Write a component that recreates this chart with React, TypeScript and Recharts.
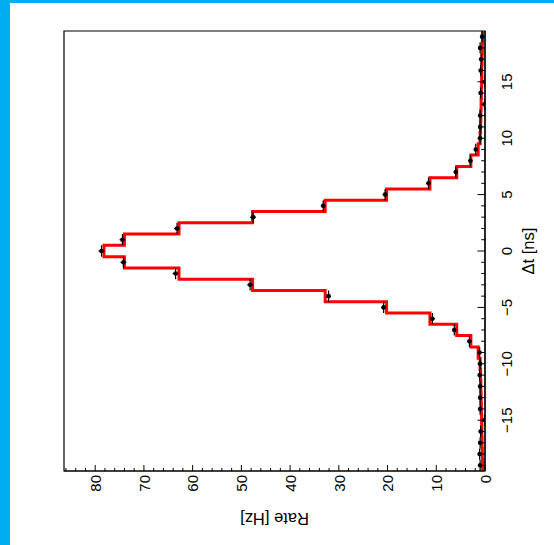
import React from 'react';
import {
  ComposedChart,
  Line,
  Scatter,
  XAxis,
  YAxis,
  ErrorBar,
  ReferenceArea,
  Label,
} from 'recharts';

// Bin centres of the coincidence-time histogram [ns]
const dtCenters = [
  -19, -18, -17, -16, -15, -14, -13, -12, -11, -10, -9, -8, -7, -6, -5, -4, -3, -2, -1, 0,
  1, 2, 3, 4, 5, 6, 7, 8, 9, 10, 11, 12, 13, 14, 15, 16, 17, 18, 19,
];

// Measured rate per bin [Hz]
const measuredRate = [
  1.0, 1.1, 1.0, 0.9, 0.1, 1.0, 1.0, 1.0, 1.1, 1.0, 1.1, 3.2, 6.3, 10.8, 20.8, 32.1, 48.2, 63.5, 74.2, 78.7,
  74.4, 63.2, 47.6, 33.2, 20.5, 11.6, 6.0, 3.0, 1.9, 1.0, 1.0, 1.0, 0.1, 0.9, 0.1, 0.9, 0.8, 1.0, 0.6,
];

// Statistical uncertainty of the measured rate [Hz]
const measuredRateErr = [
  0.3, 0.3, 0.3, 0.3, 0.0, 0.3, 0.3, 0.3, 0.3, 0.3, 0.3, 0.4, 0.4, 0.5, 0.5, 0.5, 0.6, 0.6, 0.6, 0.6,
  0.6, 0.6, 0.6, 0.5, 0.5, 0.5, 0.4, 0.4, 0.3, 0.3, 0.3, 0.3, 0.0, 0.3, 0.0, 0.3, 0.3, 0.3, 0.3,
];

// Expected rate per bin (red histogram) [Hz]
const expectedRate = [
  0.5, 0.55, 0.6, 0.65, 0.7, 0.75, 0.8, 0.85, 0.9, 1.0, 1.4, 2.9, 5.8, 11.3, 20.2, 32.8, 47.7, 62.8, 74.0, 78.2,
  74.0, 62.8, 47.7, 32.8, 20.2, 11.3, 5.8, 2.9, 1.4, 1.0, 0.9, 0.85, 0.8, 0.75, 0.7, 0.65, 0.6, 0.55, 0.5,
];

const binHalfWidth = 0.5;
const dtRange: [number, number] = [-19.5, 19.5];
const rateRange: [number, number] = [0, 86.4];

const dtTicks = dtCenters;
const dtMajorLabels = [-15, -10, -5, 0, 5, 10, 15];
const rateTicks = [
  0, 2, 4, 6, 8, 10, 12, 14, 16, 18, 20, 22, 24, 26, 28, 30, 32, 34, 36, 38, 40, 42, 44,
  46, 48, 50, 52, 54, 56, 58, 60, 62, 64, 66, 68, 70, 72, 74, 76, 78, 80, 82, 84, 86,
];
const rateMajorLabels = [0, 10, 20, 30, 40, 50, 60, 70, 80];

const FONT = '"Liberation Sans", Arial, Helvetica, sans-serif';

const pointData = dtCenters.map((dt, i) => ({
  dt,
  rate: measuredRate[i],
  rateErr: measuredRateErr[i],
  dtErr: binHalfWidth,
}));

// Step outline: each bin's value starts at its lower edge; the last edge closes the outline
const histData = [
  ...dtCenters.map((c, i) => ({ dt: c - binHalfWidth, rate: expectedRate[i] })),
  {
    dt: dtCenters[dtCenters.length - 1] + binHalfWidth,
    rate: expectedRate[expectedRate.length - 1],
  },
];

const fmt = (v: number) => (v < 0 ? '\u2212' + Math.abs(v) : String(v));

function DtTick(props: any) {
  const { x, y, payload } = props;
  const v = payload.value;
  const major = dtMajorLabels.includes(v);
  return (
    <g>
      <line x1={x} x2={x} y1={y} y2={y - (major ? 7.5 : 3.8)} stroke="#000" strokeWidth={1} />
      {major && (
        <text x={x} y={y + 27} textAnchor="middle" fontSize={15} fontFamily={FONT} fill="#000">
          {fmt(v)}
        </text>
      )}
    </g>
  );
}

function RateTick(props: any) {
  const { x, y, payload } = props;
  const v = payload.value;
  const major = rateMajorLabels.includes(v);
  return (
    <g>
      <line x1={x} x2={x + (major ? 6 : 3)} y1={y} y2={y} stroke="#000" strokeWidth={1} />
      {major && (
        <text x={x - 4} y={y + 5.8} textAnchor="end" fontSize={15} fontFamily={FONT} fill="#000">
          {fmt(v)}
        </text>
      )}
    </g>
  );
}

function Dot(props: any) {
  const { cx, cy } = props;
  return <circle cx={cx} cy={cy} r={2.3} fill="#000" />;
}

function DtTitle(props: any) {
  const vb = props.viewBox || { x: 74, y: 485, width: 440, height: 69 };
  return (
    <text
      x={vb.x + vb.width / 2}
      y={vb.y + 48.5}
      textAnchor="middle"
      fontSize={16.5}
      fontFamily={FONT}
      fill="#000"
    >
      {'\u0394t [ns]'}
    </text>
  );
}

function RateTitle(props: any) {
  const vb = props.viewBox || { x: 0, y: 64, width: 74, height: 421 };
  const cx = 32.5;
  const cy = vb.y + vb.height / 2;
  return (
    <text
      x={cx}
      y={cy}
      transform={`rotate(-90 ${cx} ${cy})`}
      textAnchor="middle"
      fontSize={16.5}
      fontFamily={FONT}
      fill="#000"
    >
      Rate [Hz]
    </text>
  );
}

export default function App() {
  const W = 545;
  const H = 554;
  return (
    <div
      style={{
        position: 'absolute',
        left: 0,
        top: 0,
        width: 554,
        height: 545,
        background: '#fff',
        overflow: 'hidden',
      }}
    >
      <div
        style={{
          position: 'absolute',
          left: 0,
          top: 0,
          width: W,
          height: H,
          transformOrigin: '0 0',
          transform: `translate(0px, ${W}px) rotate(-90deg)`,
        }}
      >
        <ComposedChart width={W} height={H} margin={{ top: 64, right: 31, bottom: 0, left: 0 }}>
          <XAxis
            type="number"
            dataKey="dt"
            domain={dtRange}
            ticks={dtTicks}
            interval={0}
            tickSize={0}
            tickMargin={0}
            tickLine={false}
            tick={(p: any) => <DtTick {...p} />}
            height={69}
            axisLine={{ stroke: '#000', strokeWidth: 1.2 }}
            allowDataOverflow
          >
            <Label content={(p: any) => <DtTitle {...p} />} />
          </XAxis>
          <YAxis
            type="number"
            dataKey="rate"
            domain={rateRange}
            ticks={rateTicks}
            interval={0}
            tickSize={0}
            tickMargin={0}
            tickLine={false}
            tick={(p: any) => <RateTick {...p} />}
            width={74}
            axisLine={{ stroke: '#000', strokeWidth: 1.2 }}
            allowDataOverflow
          >
            <Label content={(p: any) => <RateTitle {...p} />} />
          </YAxis>
          <ReferenceArea
            x1={dtRange[0]}
            x2={dtRange[1]}
            y1={rateRange[0]}
            y2={rateRange[1]}
            fill="none"
            fillOpacity={0}
            stroke="#000"
            strokeWidth={1.2}
          />
          <Line
            data={histData}
            dataKey="rate"
            type="stepAfter"
            stroke="#ff0000"
            strokeWidth={3}
            dot={false}
            activeDot={false}
            isAnimationActive={false}
          />
          <Scatter data={pointData} dataKey="rate" shape={(p: any) => <Dot {...p} />} isAnimationActive={false}>
            <ErrorBar dataKey="rateErr" direction="y" width={0} stroke="#000" strokeWidth={1.2} isAnimationActive={false} />
            <ErrorBar dataKey="dtErr" direction="x" width={0} stroke="#000" strokeWidth={1.2} isAnimationActive={false} />
          </Scatter>
        </ComposedChart>
      </div>
      <div style={{ position: 'absolute', left: 0, top: 0, width: 10, height: 545, background: '#00aeef' }} />
      <div style={{ position: 'absolute', left: 0, top: 0, width: 554, height: 3, background: '#00aeef' }} />
    </div>
  );
}
